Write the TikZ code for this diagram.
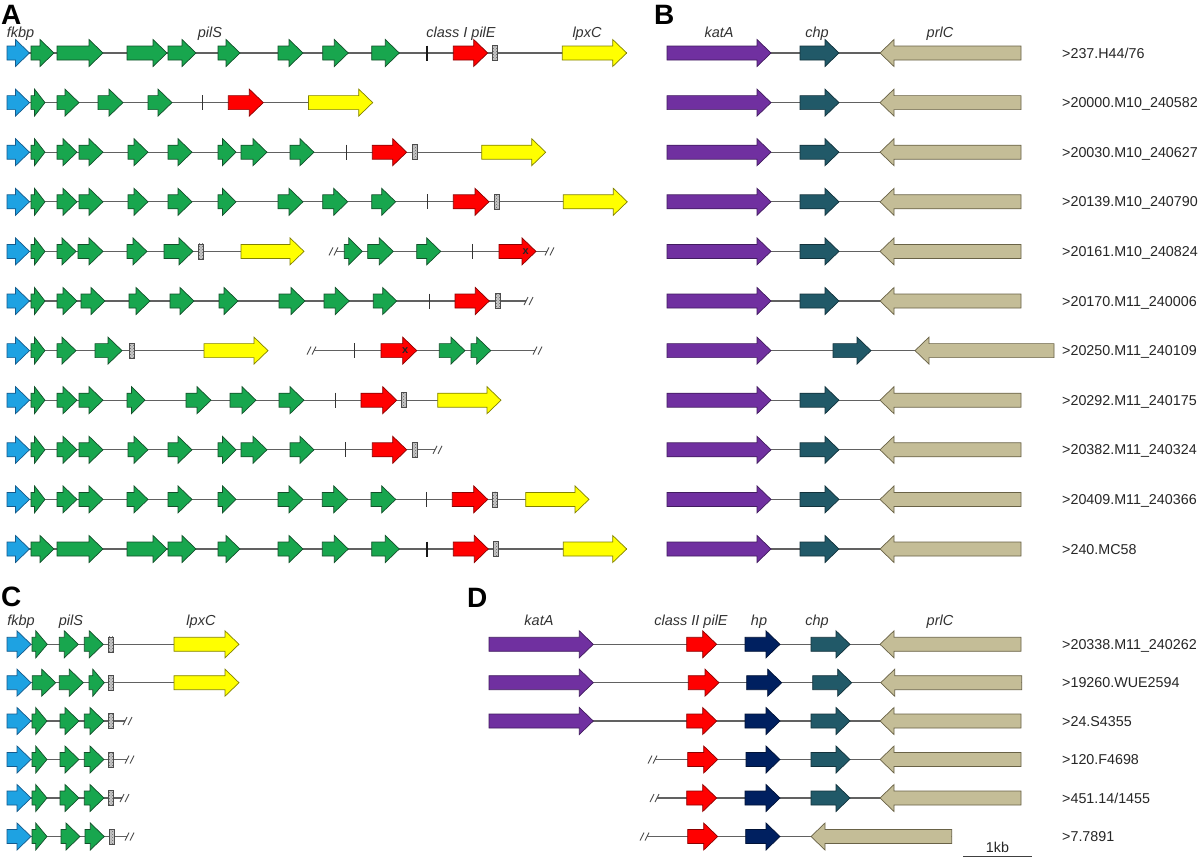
\documentclass[tikz,border=0pt]{standalone}
\usepackage{fontspec}
\setmainfont{Liberation Sans}
\usetikzlibrary{patterns}
\definecolor{cBlue}{RGB}{30,162,226}
\definecolor{cBlueD}{RGB}{20,90,140}
\definecolor{cGreen}{RGB}{24,166,78}
\definecolor{cGreenD}{RGB}{18,80,42}
\definecolor{cRed}{RGB}{255,0,0}
\definecolor{cRedD}{RGB}{140,0,0}
\definecolor{cYel}{RGB}{255,255,0}
\definecolor{cYelD}{RGB}{130,130,0}
\definecolor{cPur}{RGB}{112,48,160}
\definecolor{cPurD}{RGB}{65,28,95}
\definecolor{cTeal}{RGB}{33,89,104}
\definecolor{cTealD}{RGB}{18,50,60}
\definecolor{cNavy}{RGB}{0,32,96}
\definecolor{cNavyD}{RGB}{0,18,55}
\definecolor{cTan}{RGB}{196,189,151}
\definecolor{cTanD}{RGB}{105,98,70}
\newcommand{\GeneR}[4]{%
 \pgfmathsetmacro{\gH}{min(14,0.75*(#2-#1))}%
 \draw[#4] (#1,#3-7) -- ({#2-\gH},#3-7) -- ({#2-\gH},#3-13.5) -- (#2,#3) -- ({#2-\gH},#3+13.5) -- ({#2-\gH},#3+7) -- (#1,#3+7) -- cycle;}
\newcommand{\GeneL}[4]{%
 \pgfmathsetmacro{\gH}{min(14,0.75*(#2-#1))}%
 \draw[#4] (#2,#3-7) -- ({#1+\gH},#3-7) -- ({#1+\gH},#3-13.5) -- (#1,#3) -- ({#1+\gH},#3+13.5) -- ({#1+\gH},#3+7) -- (#2,#3+7) -- cycle;}
\newcommand{\RSite}[2]{\draw[rsite] (#1,#2-7.5) rectangle ({#1+5},#2+7.5);}
\newcommand{\TickM}[3][tickmark]{\draw[#1] (#2,#3-7.5) -- (#2,#3+7.5);}
\newcommand{\BrkM}[2]{\draw[brk] (#1,#2+4) -- ({#1+4},#2-4) ({#1+5},#2+4) -- ({#1+9},#2-4);}
\newcommand{\BRow}[3]{% y, label, name
 \draw[bb] (667,#1) -- (1021,#1);
 \GeneR{667}{771}{#1}{gpur}
 \GeneR{800}{839}{#1}{gteal}
 \GeneL{880}{1021}{#1}{gtan}
 \node[rlab] (#3) at (1062,#1+5) {#2};}
\newcommand{\ASame}[1]{% common first genes
 \GeneR{7}{29.5}{#1}{gblue}
 \GeneR{31}{45}{#1}{ggreen}}
\begin{document}
\begin{tikzpicture}[x=1pt,y=-1pt,
 bb/.style={draw=black!62, line width=1.1pt},
 gblue/.style={fill=cBlue, draw=cBlueD, line width=0.7pt},
 ggreen/.style={fill=cGreen, draw=cGreenD, line width=0.7pt},
 gred/.style={fill=cRed, draw=cRedD, line width=0.7pt},
 gyellow/.style={fill=cYel, draw=cYelD, line width=0.7pt},
 gpur/.style={fill=cPur, draw=cPurD, line width=0.7pt},
 gteal/.style={fill=cTeal, draw=cTealD, line width=0.7pt},
 gnavy/.style={fill=cNavy, draw=cNavyD, line width=0.7pt},
 gtan/.style={fill=cTan, draw=cTanD, line width=0.7pt},
 tickmark/.style={draw=black!80, line width=1pt},
 tickthick/.style={draw=black!90, line width=1.9pt},
 brk/.style={draw=black!70, line width=0.9pt},
 rsite/.style={preaction={fill=gray!45}, pattern=crosshatch dots, pattern color=black!60, draw=black!70, line width=0.6pt},
 glab/.style={font=\fontsize{14.5}{16}\selectfont\itshape, text=black!80, anchor=base, inner sep=0pt},
 rlab/.style={font=\fontsize{14.3}{16}\selectfont, text=black!85, anchor=base west, inner sep=0pt},
 plab/.style={font=\fontsize{28}{30}\selectfont\bfseries, anchor=base west, inner sep=0pt},
 xmark/.style={font=\fontsize{11}{11}\selectfont\bfseries, inner sep=0pt, text=black!85}]
\useasboundingbox (0,0) rectangle (1200,860);
\fill[white] (0,0) rectangle (1200,860);
% panel letters
\node[plab] (pA) at (1,24) {A};
\node[plab] (pB) at (654,24) {B};
\node[plab] (pC) at (1,606) {C};
\node[plab] (pD) at (467,607) {D};
% labels A
\node[glab] (lAfkbp) at (20.5,37) {fkbp};
\node[glab] (lApilS) at (210,37) {pilS};
\node[glab] (lApilE) at (461,37) {class I pilE};
\node[glab] (lAlpxC) at (587,37) {lpxC};
% labels B
\node[glab] (lBkatA) at (719,37) {katA};
\node[glab] (lBchp) at (817,37) {chp};
\node[glab] (lBprlC) at (940,37) {prlC};
% labels C
\node[glab] (lCfkbp) at (21,625) {fkbp};
\node[glab] (lCpilS) at (71,625) {pilS};
\node[glab] (lClpxC) at (201,625) {lpxC};
% labels D
\node[glab] (lDkatA) at (539,625) {katA};
\node[glab] (lDpilE) at (691,625) {class II pilE};
\node[glab] (lDhp) at (759,625) {hp};
\node[glab] (lDchp) at (817,625) {chp};
\node[glab] (lDprlC) at (940,625) {prlC};

% ---------------- Panel A ----------------
% row 1
\draw[bb] (7,53) -- (626.7,53);
\GeneR{7}{29.5}{53}{gblue}
\GeneR{31}{54}{53}{ggreen}
\GeneR{57}{103}{53}{ggreen}
\GeneR{127}{167}{53}{ggreen}
\GeneR{168}{196}{53}{ggreen}
\GeneR{218}{240}{53}{ggreen}
\GeneR{278}{303}{53}{ggreen}
\GeneR{322.7}{348.3}{53}{ggreen}
\GeneR{371.7}{399.3}{53}{ggreen}
\TickM[tickthick]{427.3}{53}
\GeneR{453.3}{487.7}{53}{gred}
\RSite{492.3}{53}
\GeneR{562.3}{626.7}{53}{gyellow}
% row 2
\draw[bb] (7,102.6) -- (372.7,102.6);
\ASame{102.6}
\GeneR{57}{79}{102.6}{ggreen}
\GeneR{98}{123}{102.6}{ggreen}
\GeneR{148}{172}{102.6}{ggreen}
\TickM{202}{102.6}
\GeneR{228.3}{263.3}{102.6}{gred}
\GeneR{308.5}{372.7}{102.6}{gyellow}
% row 3
\draw[bb] (7,152.2) -- (545.7,152.2);
\ASame{152.2}
\GeneR{57}{77}{152.2}{ggreen}
\GeneR{79}{103}{152.2}{ggreen}
\GeneR{128}{148}{152.2}{ggreen}
\GeneR{168}{192}{152.2}{ggreen}
\GeneR{218}{236}{152.2}{ggreen}
\GeneR{241}{267}{152.2}{ggreen}
\GeneR{290}{314}{152.2}{ggreen}
\TickM{346}{152.2}
\GeneR{372.3}{406.7}{152.2}{gred}
\RSite{412.3}{152.2}
\GeneR{481.7}{545.7}{152.2}{gyellow}
% row 4
\draw[bb] (7,201.8) -- (627.3,201.8);
\ASame{201.8}
\GeneR{57}{77}{201.8}{ggreen}
\GeneR{79}{103}{201.8}{ggreen}
\GeneR{128}{148}{201.8}{ggreen}
\GeneR{168}{192}{201.8}{ggreen}
\GeneR{218}{236}{201.8}{ggreen}
\GeneR{278}{303}{201.8}{ggreen}
\GeneR{322.7}{347.7}{201.8}{ggreen}
\GeneR{371.7}{395.7}{201.8}{ggreen}
\TickM{427.3}{201.8}
\GeneR{453.3}{489}{201.8}{gred}
\RSite{494.3}{201.8}
\GeneR{563.3}{627.3}{201.8}{gyellow}
% row 5
\draw[bb] (7,251.4) -- (304,251.4);
\ASame{251.4}
\GeneR{57}{76}{251.4}{ggreen}
\GeneR{78}{103}{251.4}{ggreen}
\GeneR{127}{147}{251.4}{ggreen}
\GeneR{164}{193}{251.4}{ggreen}
\RSite{198}{251.4}
\GeneR{241}{304}{251.4}{gyellow}
\BrkM{329}{251.4}
\draw[bb] (336,251.4) -- (547,251.4);
\GeneR{344.3}{362.3}{251.4}{ggreen}
\GeneR{367.7}{393.3}{251.4}{ggreen}
\GeneR{416.7}{440.7}{251.4}{ggreen}
\TickM{472.7}{251.4}
\GeneR{499}{536}{251.4}{gred}
\node[xmark] (x5) at (525.7,251.4) {x};
\BrkM{545}{251.4}
% row 6
\draw[bb] (7,301) -- (526,301);
\ASame{301}
\GeneR{57}{77}{301}{ggreen}
\GeneR{81}{105}{301}{ggreen}
\GeneR{129}{150}{301}{ggreen}
\GeneR{170}{194}{301}{ggreen}
\GeneR{219}{238}{301}{ggreen}
\GeneR{279}{305}{301}{ggreen}
\GeneR{324}{349.3}{301}{ggreen}
\GeneR{373.3}{396.7}{301}{ggreen}
\TickM{429}{301}
\GeneR{455}{489.3}{301}{gred}
\RSite{495}{301}
\BrkM{524}{301}
% row 7
\draw[bb] (7,350.6) -- (268,350.6);
\ASame{350.6}
\GeneR{57}{76}{350.6}{ggreen}
\GeneR{95}{122}{350.6}{ggreen}
\RSite{129}{350.6}
\GeneR{204}{268}{350.6}{gyellow}
\BrkM{307}{350.6}
\draw[bb] (314,350.6) -- (535,350.6);
\TickM{354}{350.6}
\GeneR{381}{416.7}{350.6}{gred}
\node[xmark] (x7) at (405.3,350.6) {x};
\GeneR{439.3}{465}{350.6}{ggreen}
\GeneR{471}{490.7}{350.6}{ggreen}
\BrkM{533}{350.6}
% row 8
\draw[bb] (7,400.2) -- (501,400.2);
\ASame{400.2}
\GeneR{57}{77}{400.2}{ggreen}
\GeneR{79}{103}{400.2}{ggreen}
\GeneR{127}{145}{400.2}{ggreen}
\GeneR{186}{211}{400.2}{ggreen}
\GeneR{230}{256}{400.2}{ggreen}
\GeneR{279}{304}{400.2}{ggreen}
\TickM{335}{400.2}
\GeneR{361}{396.7}{400.2}{gred}
\RSite{401.7}{400.2}
\GeneR{437.7}{501}{400.2}{gyellow}
% row 9
\draw[bb] (7,449.8) -- (435,449.8);
\ASame{449.8}
\GeneR{57}{77}{449.8}{ggreen}
\GeneR{79}{103}{449.8}{ggreen}
\GeneR{128}{148}{449.8}{ggreen}
\GeneR{168}{192}{449.8}{ggreen}
\GeneR{218}{236}{449.8}{ggreen}
\GeneR{241}{267}{449.8}{ggreen}
\GeneR{290}{314}{449.8}{ggreen}
\TickM{345.7}{449.8}
\GeneR{372.3}{406.7}{449.8}{gred}
\RSite{412.3}{449.8}
\BrkM{433}{449.8}
% row 10
\draw[bb] (7,499.4) -- (589,499.4);
\ASame{499.4}
\GeneR{57}{77}{499.4}{ggreen}
\GeneR{79}{103}{499.4}{ggreen}
\GeneR{127}{148}{499.4}{ggreen}
\GeneR{168}{192}{499.4}{ggreen}
\GeneR{218}{236}{499.4}{ggreen}
\GeneR{278}{303}{499.4}{ggreen}
\GeneR{322.3}{347.7}{499.4}{ggreen}
\GeneR{371}{395.7}{499.4}{ggreen}
\TickM{426}{499.4}
\GeneR{452.3}{487.7}{499.4}{gred}
\RSite{492.3}{499.4}
\GeneR{525.7}{589}{499.4}{gyellow}
% row 11
\draw[bb] (7,549) -- (626.7,549);
\GeneR{7}{29.5}{549}{gblue}
\GeneR{31}{54}{549}{ggreen}
\GeneR{57}{103}{549}{ggreen}
\GeneR{127}{167}{549}{ggreen}
\GeneR{168}{196}{549}{ggreen}
\GeneR{218}{240}{549}{ggreen}
\GeneR{278}{303}{549}{ggreen}
\GeneR{322.3}{348.3}{549}{ggreen}
\GeneR{371.7}{399.3}{549}{ggreen}
\TickM[tickthick]{427.3}{549}
\GeneR{453.3}{488.3}{549}{gred}
\RSite{493.3}{549}
\GeneR{563.3}{626.7}{549}{gyellow}

% ---------------- Panel B ----------------
\BRow{53}{>237.H44/76}{b1}
\BRow{102.6}{>20000.M10\_240582}{b2}
\BRow{152.2}{>20030.M10\_240627}{b3}
\BRow{201.8}{>20139.M10\_240790}{b4}
\BRow{251.4}{>20161.M10\_240824}{b5}
\BRow{301}{>20170.M11\_240006}{b6}
\draw[bb] (667,350.6) -- (1054,350.6);
\GeneR{667}{771}{350.6}{gpur}
\GeneR{833}{871}{350.6}{gteal}
\GeneL{915}{1054}{350.6}{gtan}
\node[rlab] (b7) at (1062,355.6) {>20250.M11\_240109};
\BRow{400.2}{>20292.M11\_240175}{b8}
\BRow{449.8}{>20382.M11\_240324}{b9}
\BRow{499.4}{>20409.M11\_240366}{b10}
\BRow{549}{>240.MC58}{b11}

% ---------------- Panel C ----------------
% row 1
\draw[bb] (7,644.3) -- (239,644.3);
\GeneR{7}{31}{644.3}{gblue}
\GeneR{32}{47.3}{644.3}{ggreen}
\GeneR{59.3}{78.3}{644.3}{ggreen}
\GeneR{84.3}{103.3}{644.3}{ggreen}
\RSite{108.3}{644.3}
\GeneR{174}{239}{644.3}{gyellow}
% row 2
\draw[bb] (7,682.7) -- (239,682.7);
\GeneR{7}{31}{682.7}{gblue}
\GeneR{32.3}{55.7}{682.7}{ggreen}
\GeneR{59.3}{83.3}{682.7}{ggreen}
\GeneR{89}{104.3}{682.7}{ggreen}
\RSite{108.3}{682.7}
\GeneR{174}{239}{682.7}{gyellow}
% row 3
\draw[bb] (7,721) -- (125,721);
\GeneR{7}{31}{721}{gblue}
\GeneR{32}{47}{721}{ggreen}
\GeneR{60}{79}{721}{ggreen}
\GeneR{84.3}{104}{721}{ggreen}
\RSite{108.3}{721}
\BrkM{123}{721}
% row 4
\draw[bb] (7,759.5) -- (127,759.5);
\GeneR{7}{31}{759.5}{gblue}
\GeneR{32}{47}{759.5}{ggreen}
\GeneR{60}{79}{759.5}{ggreen}
\GeneR{84.3}{104}{759.5}{ggreen}
\RSite{108.3}{759.5}
\BrkM{125}{759.5}
% row 5
\draw[bb] (7,798) -- (122,798);
\GeneR{7}{31}{798}{gblue}
\GeneR{32}{47}{798}{ggreen}
\GeneR{60}{79}{798}{ggreen}
\GeneR{84.3}{104}{798}{ggreen}
\RSite{108.3}{798}
\BrkM{120}{798}
% row 6
\draw[bb] (7,836.5) -- (127,836.5);
\GeneR{7}{31}{836.5}{gblue}
\GeneR{32}{47}{836.5}{ggreen}
\GeneR{61}{80}{836.5}{ggreen}
\GeneR{85}{104.3}{836.5}{ggreen}
\RSite{109}{836.5}
\BrkM{125}{836.5}

% ---------------- Panel D ----------------
% row 1
\draw[bb] (489,644.3) -- (1021,644.3);
\GeneR{489}{593.3}{644.3}{gpur}
\GeneR{686.7}{716.7}{644.3}{gred}
\GeneR{745}{780}{644.3}{gnavy}
\GeneR{811}{850}{644.3}{gteal}
\GeneL{880}{1021}{644.3}{gtan}
\node[rlab] (d1) at (1062,649.3) {>20338.M11\_240262};
% row 2
\draw[bb] (489,682.7) -- (1021.7,682.7);
\GeneR{489}{593.3}{682.7}{gpur}
\GeneR{688.3}{719}{682.7}{gred}
\GeneR{746.7}{781.7}{682.7}{gnavy}
\GeneR{812.7}{851.7}{682.7}{gteal}
\GeneL{880.7}{1021.7}{682.7}{gtan}
\node[rlab] (d2) at (1062,687.7) {>19260.WUE2594};
% row 3
\draw[bb] (489,721) -- (1021,721);
\GeneR{489}{593.3}{721}{gpur}
\GeneR{686.7}{716.7}{721}{gred}
\GeneR{745}{780}{721}{gnavy}
\GeneR{811}{850}{721}{gteal}
\GeneL{880}{1021}{721}{gtan}
\node[rlab] (d3) at (1062,726) {>24.S4355};
% row 4
\BrkM{648}{759.5}
\draw[bb] (655,759.5) -- (1021,759.5);
\GeneR{687.7}{717.7}{759.5}{gred}
\GeneR{746}{780}{759.5}{gnavy}
\GeneR{811}{850}{759.5}{gteal}
\GeneL{880}{1021}{759.5}{gtan}
\node[rlab] (d4) at (1062,764.5) {>120.F4698};
% row 5
\BrkM{650}{798}
\draw[bb] (657,798) -- (1021,798);
\GeneR{686.7}{716.7}{798}{gred}
\GeneR{745}{780}{798}{gnavy}
\GeneR{811}{850}{798}{gteal}
\GeneL{880}{1021}{798}{gtan}
\node[rlab] (d5) at (1062,803) {>451.14/1455};
% row 6
\BrkM{640}{836.5}
\draw[bb] (647,836.5) -- (952,836.5);
\GeneR{687.7}{717.7}{836.5}{gred}
\GeneR{745.7}{780}{836.5}{gnavy}
\GeneL{811}{951.7}{836.5}{gtan}
\node[rlab] (d6) at (1062,841.5) {>7.7891};
% scale bar
\coordinate (sb1) at (963,856.5);
\coordinate (sb2) at (1032,856.5);
\draw[draw=black!75, line width=1pt] (sb1) -- (sb2);
\node[rlab, anchor=base] (kb) at (997.5,852.5) {1kb};
\end{tikzpicture}
\end{document}
